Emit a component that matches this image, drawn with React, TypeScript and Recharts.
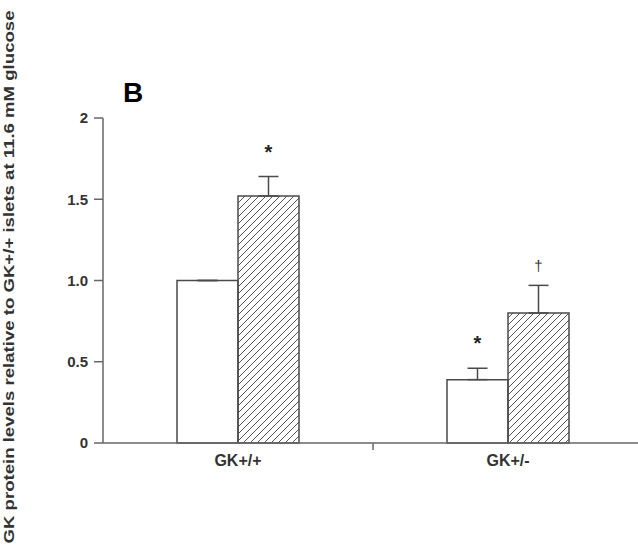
import { Bar, BarChart, ErrorBar, LabelList, XAxis, YAxis } from "recharts";

const categories = ["GK+/+", "GK+/-"];
const controlValues = [1.0, 0.39];
const controlErrors = [0, 0.07];
const treatedValues = [1.52, 0.8];
const treatedErrors = [0.12, 0.17];
const controlMarks = ["", "*"];
const treatedMarks = ["*", "†"];
const yTicks = [0, 0.5, 1, 1.5, 2];
const yTickLabels = ["0", "0.5", "1.0", "1.5", "2"];

const data = categories.map((name, i) => ({
  name,
  control: controlValues[i],
  controlErr: [0, controlErrors[i]],
  controlMark: controlMarks[i],
  treated: treatedValues[i],
  treatedErr: [0, treatedErrors[i]],
  treatedMark: treatedMarks[i],
}));

const FONT = "'Liberation Sans', Arial, sans-serif";
const AXIS = "#666";
const EDGE = "#4a4a4a";

function markRenderer(values: number[], errors: number[]) {
  return (props: any) => {
    const { x, y, width, height, value, index } = props;
    if (!value) return null;
    const ppu = height / values[index];
    const top = y - errors[index] * ppu;
    const cx = x + width / 2;
    if (value === "†") {
      return (
        <text x={cx} y={top - 14} textAnchor="middle" fontFamily={FONT} fontSize={15} fill="#333">
          {value}
        </text>
      );
    }
    return (
      <text x={cx} y={top - 18} textAnchor="middle" fontFamily={FONT} fontSize={20} fontWeight="bold" fill="#222">
        {value}
      </text>
    );
  };
}

function XTick(props: any) {
  const { x, y, payload, index } = props;
  const half = payload?.offset ?? 135;
  return (
    <g>
      <text x={x} y={y} dy={23} textAnchor="middle" fontFamily={FONT} fontSize={16} fontWeight="bold" fill="#333">
        {payload.value}
      </text>
      {index === 0 && <line x1={x + half} x2={x + half} y1={y} y2={y + 7} stroke={AXIS} strokeWidth={1.5} />}
    </g>
  );
}

export default function App() {
  return (
    <div style={{ position: "absolute", left: 0, top: 0, width: 638, height: 560, background: "#fff" }}>
      <BarChart
        width={638}
        height={560}
        data={data}
        margin={{ top: 118, right: -5, left: 0, bottom: 87 }}
        barGap={0}
        barSize={61}
      >
        <defs>
          <pattern id="hatch" patternUnits="userSpaceOnUse" width={7} height={7}>
            <path d="M-1,1 l2,-2 M0,7 l7,-7 M6,8 l2,-2" stroke="#555" strokeWidth={1} />
          </pattern>
        </defs>
        <text x={123} y={102} fontFamily={FONT} fontSize={28} fontWeight="bold" fill="#000">
          B
        </text>
        <text
          transform="translate(14,277) rotate(-90)"
          textAnchor="middle"
          fontFamily={FONT}
          fontSize={15}
          fontWeight="bold"
          fill="#333"
          textLength={533}
          lengthAdjust="spacingAndGlyphs"
        >
          GK protein levels relative to GK+/+ islets at 11.6 mM glucose
        </text>
        <XAxis
          dataKey="name"
          height={30}
          tickLine={false}
          tickSize={0}
          tickMargin={0}
          axisLine={{ stroke: AXIS, strokeWidth: 1.5 }}
          tick={<XTick />}
          interval={0}
        />
        <YAxis
          width={103}
          domain={[0, 2]}
          ticks={yTicks}
          tickFormatter={(v: number) => yTickLabels[yTicks.indexOf(v)]}
          tickSize={9}
          tickMargin={6}
          axisLine={{ stroke: AXIS, strokeWidth: 1.5 }}
          tickLine={{ stroke: AXIS, strokeWidth: 1.5 }}
          tick={{ fontFamily: FONT, fontSize: 15, fontWeight: "bold", fill: "#333" }}
        />
        <Bar dataKey="control" fill="#fff" stroke={EDGE} strokeWidth={1.5} isAnimationActive={false}>
          <ErrorBar dataKey="controlErr" width={10} stroke={EDGE} strokeWidth={1.5} direction="y" />
          <LabelList dataKey="controlMark" content={markRenderer(controlValues, controlErrors)} />
        </Bar>
        <Bar dataKey="treated" fill="url(#hatch)" stroke={EDGE} strokeWidth={1.5} isAnimationActive={false}>
          <ErrorBar dataKey="treatedErr" width={10} stroke={EDGE} strokeWidth={1.5} direction="y" />
          <LabelList dataKey="treatedMark" content={markRenderer(treatedValues, treatedErrors)} />
        </Bar>
      </BarChart>
    </div>
  );
}
